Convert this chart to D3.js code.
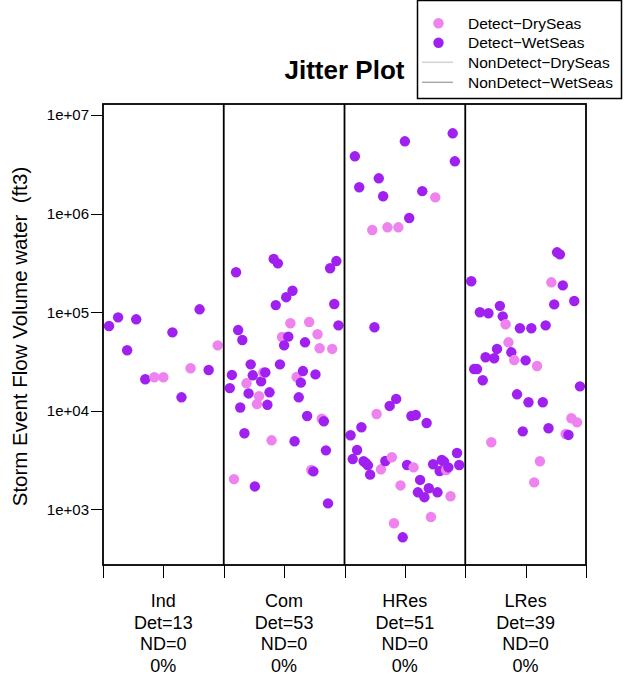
<!DOCTYPE html>
<html>
<meta charset="utf-8">
<style>
  body { margin: 0; background: #fff; }
  svg { width: 624px; height: 681px; font-family: "Liberation Sans", Arial, sans-serif; }
  .axis path { display: none; }
  .axis line { stroke: #000; shape-rendering: crispEdges; }
  .ylab { white-space: pre; }
</style>
<body>
  <svg></svg>
</body>
<script src="https://cdn.jsdelivr.net/npm/d3@7"></script>
<script>

// groups shown along the bottom, and the label lines under each one
var groups = ["Ind", "Com", "HRes", "LRes"];
var detLabels = ["Det=13", "Det=53", "Det=51", "Det=39"];
var ndLabels = ["ND=0", "ND=0", "ND=0", "ND=0"];
var pctLabels = ["0%", "0%", "0%", "0%"];

var yTicks = [1e3, 1e4, 1e5, 1e6, 1e7];

// flow volumes (ft3), in plotting order, with season W = wet, D = dry
var indFlow = [72400, 88700, 41100, 84700, 20900, 21900, 21900, 62500, 13700, 27000, 107000, 25900, 46100];
var indSeason = "WWWWWDDWWDWWD";

var comFlow = [17000, 23100, 2030, 254000, 65900, 10800, 52200, 5920, 19000,
  15000, 29600, 22900, 1710, 11700, 14100, 19900, 24500, 24500, 11500, 15400,
  5020, 347000, 118000, 313000, 29600, 56000, 46100, 142000, 56500, 77200,
  165000, 4910, 22000, 13700, 19300, 25300, 49500, 8850, 79600, 2510,
  2430, 23400, 59700, 43100, 8320, 7830, 3970, 1150, 279000, 42400, 121000, 330000, 73600];
var comSeason = "WWDWWWWWD" + "WWWWDDWDWWW" + "DWWWWDWWWD" + "WWDWWWWWDD" + "WWDDDWWWWDWWW";

var hresFlow = [5650, 3240, 3810000, 4000, 1850000, 6810, 3080, 2960, 2800, 2250,
  682000, 70300, 9290, 2280000, 2550, 1500000, 3100, 726000, 11200, 3380,
  723, 13200, 726000, 1750, 521, 5410000, 2820, 902000, 8850, 2670,
  9060, 1490, 1990, 1690000, 1330, 7520, 1640, 837, 2870, 1460000,
  1490, 2450, 3170, 3040, 2510, 2670, 1360, 6520000, 3390000, 3730, 2820];
var hresSeason = "WWWWWWWWWW" + "DWDWDWWDWD" + "DWDDWWWWWD" + "WWWWWWWDWD" + "WWWWDWDWWWW";

var lresFlow = [206000, 26500, 26500, 100000, 20400, 34900, 97500, 4800, 34100, 42400,
  116000, 90800, 75400, 49500, 39200, 32700, 14700, 68700, 6190, 32500,
  12200, 68700, 1880, 28500, 3080, 12200, 73600, 6650, 201000, 120000,
  405000, 386000, 187000, 5820, 5690, 8400, 130000, 7640, 17700];
var lresSeason = "WWWWWWWDWW" + "WWDDWDWWWW" + "WWDDDWWWDW" + "WWWDWDWDW";

var flows = [indFlow, comFlow, hresFlow, lresFlow];
var seasons = [indSeason, comSeason, hresSeason, lresSeason];

var legendLabels = ["Detect\u2212DrySeas", "Detect\u2212WetSeas", "NonDetect\u2212DrySeas", "NonDetect\u2212WetSeas"];

var dryCol = "#EE82EE", wetCol = "#A020F0";

var margin = {top: 104, right: 38, bottom: 116, left: 103},
    width = 624 - margin.left - margin.right,
    height = 681 - margin.top - margin.bottom;

var svg = d3.select("svg");
var g = svg.append("g").attr("transform", "translate(" + margin.left + "," + margin.top + ")");

var xScale = d3.scaleLinear()
  .domain([0.5, 4.5])
  .range([0, width]);

var yScale = d3.scaleLog()
  .domain([1e3, 1e7])
  .range([405.4, 11]);

// points: spread evenly across each group's strip, in data order
var points = [];
flows.forEach(function(arr, gi) {
  var n = arr.length;
  arr.forEach(function(v, i) {
    points.push({pos: gi + 1 - 0.45 + 0.9 * i / (n - 1), value: v, season: seasons[gi][i]});
  });
});

g.selectAll("circle")
  .data(points)
  .enter().append("circle")
    .attr("cx", function(d) { return xScale(d.pos); })
    .attr("cy", function(d) { return yScale(d.value); })
    .attr("r", 5.2)
    .attr("fill", function(d) { return d.season == "D" ? dryCol : wetCol; });

// panel separators and box
g.selectAll("line.sep")
  .data([1.5, 2.5, 3.5])
  .enter().append("line")
    .attr("class", "sep")
    .attr("x1", function(d) { return xScale(d); })
    .attr("x2", function(d) { return xScale(d); })
    .attr("y1", 0).attr("y2", height)
    .attr("stroke", "#000").attr("stroke-width", 1.8);

g.append("rect")
  .attr("width", width).attr("height", height)
  .attr("fill", "none").attr("stroke", "#000").attr("stroke-width", 1.8);

// axes
var yAxis = d3.axisLeft(yScale)
  .tickValues(yTicks)
  .tickSize(12)
  .tickPadding(2)
  .tickFormat(function(d) { return "1e+0" + Math.round(Math.log10(d)); });

g.append("g")
  .attr("class", "y axis")
  .call(yAxis)
  .selectAll("text").attr("font-size", 15).attr("font-family", "Liberation Sans, Arial, sans-serif").attr("fill", "#000");

var xAxis = d3.axisBottom(xScale)
  .tickValues([0.5, 1, 1.5, 2, 2.5, 3, 3.5, 4, 4.5])
  .tickSize(13)
  .tickFormat("");

g.append("g")
  .attr("class", "x axis")
  .attr("transform", "translate(0," + height + ")")
  .call(xAxis);

// group labels, four lines each
var labelRows = [groups, detLabels, ndLabels, pctLabels];
labelRows.forEach(function(row, ri) {
  g.selectAll("text.row" + ri)
    .data(row)
    .enter().append("text")
      .attr("class", "row" + ri)
      .attr("x", function(d, i) { return xScale(i + 1); })
      .attr("y", height + 42 + ri * 21.7)
      .attr("text-anchor", "middle")
      .attr("font-size", 18)
      .text(function(d) { return d; });
});

// y label
svg.append("text")
  .attr("class", "ylab")
  .attr("transform", "translate(27," + (margin.top + height / 2 + 2) + ") rotate(-90)")
  .attr("text-anchor", "middle")
  .attr("font-size", 20.5)
  .text("Storm Event Flow Volume water  (ft3)");

// title
svg.append("text")
  .attr("x", margin.left + width / 2)
  .attr("y", 79)
  .attr("text-anchor", "middle")
  .attr("font-size", 26)
  .attr("font-weight", "bold")
  .text("Jitter Plot");

// legend
var legend = svg.append("g");
legend.append("rect")
  .attr("x", 417.5).attr("y", 0.5).attr("width", 204).attr("height", 98)
  .attr("fill", "#fff").attr("stroke", "#000").attr("stroke-width", 1.5);

var legendY = [23.3, 42.7, 62.3, 82.3];
legend.selectAll("circle")
  .data([dryCol, wetCol])
  .enter().append("circle")
    .attr("cx", 438.5)
    .attr("cy", function(d, i) { return legendY[i]; })
    .attr("r", 5.2)
    .attr("fill", function(d) { return d; });

legend.selectAll("line")
  .data(["#d3d3d3", "#a9a9a9"])
  .enter().append("line")
    .attr("x1", 422).attr("x2", 453)
    .attr("y1", function(d, i) { return legendY[i + 2]; })
    .attr("y2", function(d, i) { return legendY[i + 2]; })
    .attr("stroke", function(d) { return d; })
    .attr("stroke-width", 1.5);

legend.selectAll("text")
  .data(legendLabels)
  .enter().append("text")
    .attr("x", 468)
    .attr("y", function(d, i) { return legendY[i] + 5.5; })
    .attr("font-size", 15.5)
    .text(function(d) { return d; });

</script>
</html>
